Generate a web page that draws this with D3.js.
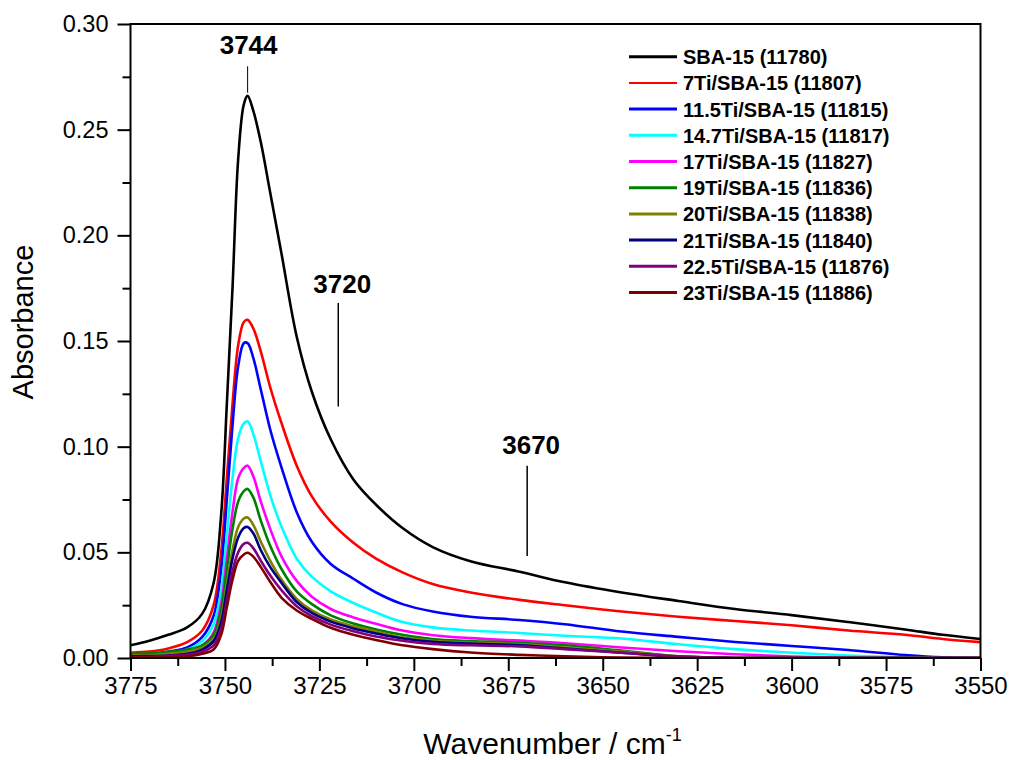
<!DOCTYPE html>
<html>
<head>
<meta charset="utf-8">
<script src="https://cdn.jsdelivr.net/npm/d3@7"></script>
<style>
  html, body { margin: 0; padding: 0; background: #fff; }
  svg { display: block; font-family: "Liberation Sans", Arial, sans-serif; }
</style>
</head>
<body>
<svg id="chart" width="1011" height="760"></svg>
<script>
// Wavenumber grid (cm-1), shared by every spectrum
const wavenumbers = [3775, 3770, 3765, 3760, 3756, 3753, 3751, 3749.5, 3748, 3746.5, 3745, 3744,
  3742.5, 3740.5, 3738, 3735, 3731, 3727, 3722, 3716, 3710, 3703, 3695, 3685, 3672, 3660,
  3645, 3630, 3615, 3600, 3585, 3570, 3560, 3550];

// Absorbance of each sample on that grid
const sba15 = [0.006, 0.0082, 0.011, 0.0145, 0.021, 0.0355, 0.068, 0.12, 0.175, 0.236, 0.262, 0.266,
  0.259, 0.244, 0.22, 0.191, 0.152, 0.126, 0.1035, 0.0845, 0.0725, 0.0615, 0.0525, 0.0458, 0.0408, 0.0358,
  0.031, 0.027, 0.0232, 0.0203, 0.017, 0.0135, 0.011, 0.009];
const ti7 = [0.0025, 0.003, 0.0045, 0.0075, 0.013, 0.025, 0.05, 0.085, 0.12, 0.148, 0.159, 0.160,
  0.156, 0.145, 0.128, 0.111, 0.091, 0.0765, 0.0645, 0.0545, 0.047, 0.0405, 0.035, 0.031, 0.0275, 0.025,
  0.022, 0.0195, 0.0175, 0.0155, 0.013, 0.011, 0.009, 0.0075];
const ti11_5 = [0.001, 0.0015, 0.003, 0.005, 0.01, 0.02, 0.042, 0.075, 0.11, 0.138, 0.149, 0.149,
  0.142, 0.127, 0.108, 0.090, 0.069, 0.055, 0.0445, 0.0375, 0.031, 0.0255, 0.022, 0.0195, 0.018, 0.016,
  0.0125, 0.01, 0.0076, 0.0057, 0.0038, 0.0014, 0.0003, 0];
const ti14_7 = [0.0008, 0.001, 0.002, 0.004, 0.008, 0.016, 0.032, 0.058, 0.085, 0.104, 0.111, 0.112,
  0.106, 0.093, 0.077, 0.062, 0.047, 0.0385, 0.0315, 0.026, 0.0215, 0.017, 0.0145, 0.013, 0.0118, 0.0105,
  0.0092, 0.0065, 0.0042, 0.0025, 0.0012, 0.0003, 0, 0];
const ti17 = [0.0008, 0.001, 0.0018, 0.003, 0.006, 0.012, 0.026, 0.047, 0.069, 0.085, 0.090, 0.091,
  0.086, 0.074, 0.061, 0.048, 0.0365, 0.029, 0.0232, 0.0192, 0.0162, 0.013, 0.0108, 0.0094, 0.0082, 0.007,
  0.005, 0.0032, 0.0018, 0.0007, 0.0001, 0, 0, 0];
const ti19 = [0.002, 0.0022, 0.003, 0.004, 0.006, 0.011, 0.023, 0.042, 0.061, 0.074, 0.079, 0.080,
  0.076, 0.065, 0.053, 0.042, 0.0315, 0.0255, 0.0202, 0.0163, 0.0135, 0.011, 0.009, 0.008, 0.0072, 0.006,
  0.0035, 0.0008, 0, 0, 0, 0, 0, 0];
const ti20 = [0.0012, 0.0013, 0.002, 0.003, 0.005, 0.009, 0.019, 0.035, 0.051, 0.062, 0.066, 0.0665,
  0.063, 0.055, 0.046, 0.037, 0.028, 0.0225, 0.0182, 0.015, 0.0125, 0.0098, 0.0082, 0.0073, 0.0065, 0.005,
  0.003, 0.0008, 0, 0, 0, 0, 0, 0];
const ti21 = [0.0008, 0.0009, 0.0012, 0.002, 0.004, 0.008, 0.017, 0.032, 0.047, 0.057, 0.0615, 0.062,
  0.059, 0.051, 0.043, 0.0355, 0.0265, 0.0213, 0.0172, 0.014, 0.0116, 0.0092, 0.0077, 0.0068, 0.006, 0.0045,
  0.0025, 0.0005, 0, 0, 0, 0, 0, 0];
const ti22_5 = [0.0005, 0.0006, 0.001, 0.0015, 0.003, 0.006, 0.014, 0.027, 0.041, 0.050, 0.054, 0.0545,
  0.052, 0.046, 0.039, 0.032, 0.0245, 0.0198, 0.0158, 0.0127, 0.0102, 0.0082, 0.0067, 0.006, 0.0055, 0.0042,
  0.0025, 0.0008, 0, 0, 0, 0, 0, 0];
const ti23 = [0.0002, 0.0002, 0.0003, 0.0008, 0.002, 0.004, 0.011, 0.024, 0.037, 0.046, 0.049, 0.0498,
  0.048, 0.043, 0.036, 0.0285, 0.0225, 0.0185, 0.0143, 0.011, 0.0085, 0.006, 0.0042, 0.0026, 0.0015, 0.0008,
  0.0002, 0, 0, 0, 0, 0, 0, 0];

const seriesNames = ["SBA-15 (11780)", "7Ti/SBA-15 (11807)", "11.5Ti/SBA-15 (11815)",
  "14.7Ti/SBA-15 (11817)", "17Ti/SBA-15 (11827)", "19Ti/SBA-15 (11836)", "20Ti/SBA-15 (11838)",
  "21Ti/SBA-15 (11840)", "22.5Ti/SBA-15 (11876)", "23Ti/SBA-15 (11886)"];
const seriesValues = [sba15, ti7, ti11_5, ti14_7, ti17, ti19, ti20, ti21, ti22_5, ti23];

// Axis ticks
const xTicks = [3775, 3750, 3725, 3700, 3675, 3650, 3625, 3600, 3575, 3550];
const yTicks = [0.00, 0.05, 0.10, 0.15, 0.20, 0.25, 0.30];

// Band annotations: label, position (cm-1)
const bandLabels = ["3744", "3720", "3670"];
const bandPositions = [3744, 3720, 3670];

// ---- styling ----
const colors = ["#000000", "#ff0000", "#0000ff", "#00ffff", "#ff00ff", "#008000", "#808000",
  "#000080", "#800080", "#800000"];
const legendWidths = [3, 2, 3, 3, 3, 3, 3, 3, 3, 3];

const svg = d3.select("#chart");
const m = { left: 130.5, right: 980.5, top: 24, bottom: 658 };

const x = d3.scaleLinear().domain([3775, 3550]).range([m.left, m.right]);
const y = d3.scaleLinear().domain([0, 0.30]).range([m.bottom, m.top]);

svg.append("rect").attr("width", 1011).attr("height", 760).attr("fill", "#fff");

svg.append("clipPath").attr("id", "plotClip")
  .append("rect").attr("x", m.left).attr("y", m.top)
  .attr("width", m.right - m.left).attr("height", m.bottom - m.top);

// spectra
const line = d3.line()
  .x(d => x(d[0]))
  .y(d => y(d[1]))
  .curve(d3.curveCatmullRom.alpha(0.5));

const plot = svg.append("g").attr("clip-path", "url(#plotClip)");
seriesValues.forEach((vals, i) => {
  const pts = wavenumbers.map((w, k) => [w, vals[k]]);
  plot.append("path")
    .attr("d", line(pts))
    .attr("fill", "none")
    .attr("stroke", colors[i])
    .attr("stroke-width", 2.6)
    .attr("stroke-linejoin", "round");
});

// axes: major + minor ticks, outward
const xMinor = d3.range(3775, 3549, -12.5).filter(v => !xTicks.includes(v));
const yMinor = d3.range(0.025, 0.3, 0.05);

function styleAxis(g) {
  g.select(".domain").remove();
  g.selectAll(".tick line").attr("stroke", "#000").attr("stroke-width", 2);
  g.selectAll(".tick text").attr("fill", "#000");
}

svg.append("g")
  .attr("transform", `translate(0,${m.bottom})`)
  .call(d3.axisBottom(x).tickValues(xTicks).tickFormat(d3.format("d")).tickSize(13).tickPadding(6))
  .call(styleAxis)
  .call(g => g.selectAll(".tick text").attr("font-size", 24).attr("font-family", "Liberation Sans, Arial, sans-serif"));

svg.append("g")
  .attr("transform", `translate(0,${m.bottom})`)
  .call(d3.axisBottom(x).tickValues(xMinor).tickFormat("").tickSize(8))
  .call(styleAxis);

svg.append("g")
  .attr("transform", `translate(${m.left},0)`)
  .call(d3.axisLeft(y).tickValues(yTicks).tickFormat(d3.format(".2f")).tickSize(13).tickPadding(9))
  .call(styleAxis)
  .call(g => g.selectAll(".tick text").attr("font-size", 23.5).attr("font-family", "Liberation Sans, Arial, sans-serif"));

svg.append("g")
  .attr("transform", `translate(${m.left},0)`)
  .call(d3.axisLeft(y).tickValues(yMinor).tickFormat("").tickSize(8))
  .call(styleAxis);

// frame
svg.append("rect")
  .attr("x", m.left).attr("y", m.top)
  .attr("width", m.right - m.left).attr("height", m.bottom - m.top)
  .attr("fill", "none").attr("stroke", "#000").attr("stroke-width", 2);

// axis titles
const xTitle = svg.append("text")
  .attr("x", (m.left + m.right) / 2 - 3).attr("y", 754)
  .attr("text-anchor", "middle").attr("font-size", 30).attr("fill", "#000");
xTitle.append("tspan").text("Wavenumber / cm");
xTitle.append("tspan").attr("dy", -13).attr("font-size", 18).text("-1");

svg.append("text")
  .attr("transform", `translate(33,322) rotate(-90)`)
  .attr("text-anchor", "middle").attr("font-size", 29).attr("fill", "#000")
  .text("Absorbance");

// band annotations
const bandTextY = [0.2857, 0.1725, 0.0967];
const bandLineTop = [0.280, 0.168, 0.091];
const bandLineBottom = [0.2675, 0.119, 0.0483];
bandLabels.forEach((lab, i) => {
  const bx = x(bandPositions[i]);
  svg.append("text")
    .attr("x", bx + (i === 0 ? 1 : 4)).attr("y", y(bandTextY[i]))
    .attr("text-anchor", "middle").attr("font-size", 26).attr("font-weight", "bold")
    .attr("fill", "#000").text(lab);
  svg.append("line")
    .attr("x1", bx).attr("x2", bx)
    .attr("y1", y(bandLineTop[i])).attr("y2", y(bandLineBottom[i]))
    .attr("stroke", "#000").attr("stroke-width", i === 0 ? 1 : 1.5);
});

// legend
const legend = svg.append("g").attr("transform", "translate(629,56.7)");
seriesNames.forEach((name, i) => {
  const row = legend.append("g").attr("transform", `translate(0,${i * 26.2})`);
  row.append("line").attr("x1", 0).attr("x2", 48).attr("y1", 0).attr("y2", 0)
    .attr("stroke", colors[i]).attr("stroke-width", legendWidths[i]);
  row.append("text").attr("x", 54).attr("y", 7.5)
    .attr("font-size", 20).attr("font-weight", "bold").attr("fill", "#000").text(name);
});
</script>
</body>
</html>
